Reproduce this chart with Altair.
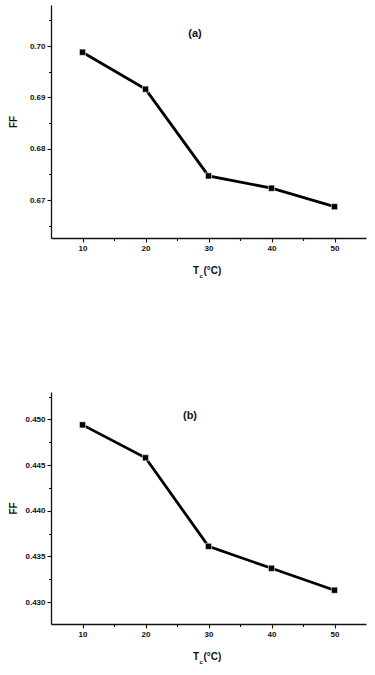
import altair as alt
import pandas as pd

# ---- data ----
temps = [10, 20, 30, 40, 50]
ff_a = [0.6988, 0.6916, 0.6747, 0.6723, 0.6687]
ff_b = [0.4494, 0.4458, 0.4361, 0.4337, 0.4313]

x_ticks = [10, 15, 20, 25, 30, 35, 40, 45, 50]
y_ticks_a = [0.665, 0.670, 0.675, 0.680, 0.685, 0.690, 0.695, 0.700, 0.705]
y_ticks_b = [0.4300, 0.4325, 0.4350, 0.4375, 0.4400, 0.4425, 0.4450, 0.4475, 0.4500, 0.4525]

x_domain = [5, 55]
y_domain_a = [0.6626, 0.708]
y_domain_b = [0.4276, 0.4530]

FONT = "Liberation Sans"
W = 315


def panel(values, y_domain, y_ticks, major_test, fmt, tag, tag_xy, H):
    df = pd.DataFrame({"T": temps, "FF": values})
    x_enc = alt.X(
        "T:Q",
        scale=alt.Scale(domain=x_domain, nice=False, zero=False),
        axis=alt.Axis(
            values=x_ticks,
            labelExpr="datum.value % 10 == 0 ? datum.label : ''",
            tickSize={"condition": {"test": "datum.value % 10 == 0", "value": 4}, "value": 2.5},
            labelOverlap=False,
            title=None,
            format="d",
        ),
    )
    y_enc = alt.Y(
        "FF:Q",
        scale=alt.Scale(domain=y_domain, nice=False, zero=False),
        axis=alt.Axis(
            values=y_ticks,
            labelExpr=f"{major_test} ? format(datum.value, '{fmt}') : ''",
            tickSize={"condition": {"test": major_test, "value": 4}, "value": 2.5},
            labelOverlap=False,
            title="FF",
            titleX=-38,
            titleY=H / 2,
            titleAngle=-90,
            titleAlign="center",
            titleBaseline="middle",
        ),
    )
    base = alt.Chart(df).encode(x=x_enc, y=y_enc)
    line = base.mark_line(color="black", strokeWidth=2.8)
    pts = base.mark_point(shape="square", filled=True, size=38, color="black",
                          opacity=1, stroke="white", strokeWidth=0.6)

    tag_layer = alt.Chart(pd.DataFrame({"t": [tag]})).mark_text(
        font=FONT, fontWeight="bold", fontSize=11, align="center", baseline="middle", color="#111"
    ).encode(x=alt.value(tag_xy[0]), y=alt.value(tag_xy[1]), text="t:N")

    tx = 148
    ty = H + 33
    t_main = alt.Chart(pd.DataFrame({"t": ["T"]})).mark_text(
        font=FONT, fontWeight="bold", fontSize=10, align="right", baseline="middle", color="#111"
    ).encode(x=alt.value(tx), y=alt.value(ty), text="t:N")
    t_sub = alt.Chart(pd.DataFrame({"t": ["c"]})).mark_text(
        font=FONT, fontWeight="bold", fontSize=6, align="left", baseline="middle", color="#111"
    ).encode(x=alt.value(tx + 0.5), y=alt.value(ty + 5), text="t:N")
    t_rest = alt.Chart(pd.DataFrame({"t": ["(°C)"]})).mark_text(
        font=FONT, fontWeight="bold", fontSize=10, align="left", baseline="middle", color="#111"
    ).encode(x=alt.value(tx + 4.5), y=alt.value(ty), text="t:N")

    return alt.layer(line, pts, tag_layer, t_main, t_sub, t_rest).properties(width=W, height=H)


pa = panel(ff_a, y_domain_a, y_ticks_a, "round(datum.value * 1000) % 10 == 0", ".2f",
           "(a)", (144, 29), 233)
pb = panel(ff_b, y_domain_b, y_ticks_b, "round(datum.value * 10000) % 50 == 0", ".3f",
           "(b)", (139, 24), 232)

chart = alt.vconcat(pa, pb, spacing=113).properties(
    padding={"left": 8, "top": 5, "right": 5, "bottom": 5}
).configure_view(stroke=None).configure_axis(
    grid=False,
    domainColor="#111",
    domainWidth=1.3,
    tickColor="#111",
    tickWidth=1.1,
    labelColor="#111",
    labelFont=FONT,
    labelFontWeight="bold",
    labelFontSize=8,
    labelPadding=2,
    titleFont=FONT,
    titleFontWeight="bold",
    titleFontSize=10,
    titleColor="#111",
)

chart.save("out.html", embed_options={"renderer": "svg", "actions": False})
